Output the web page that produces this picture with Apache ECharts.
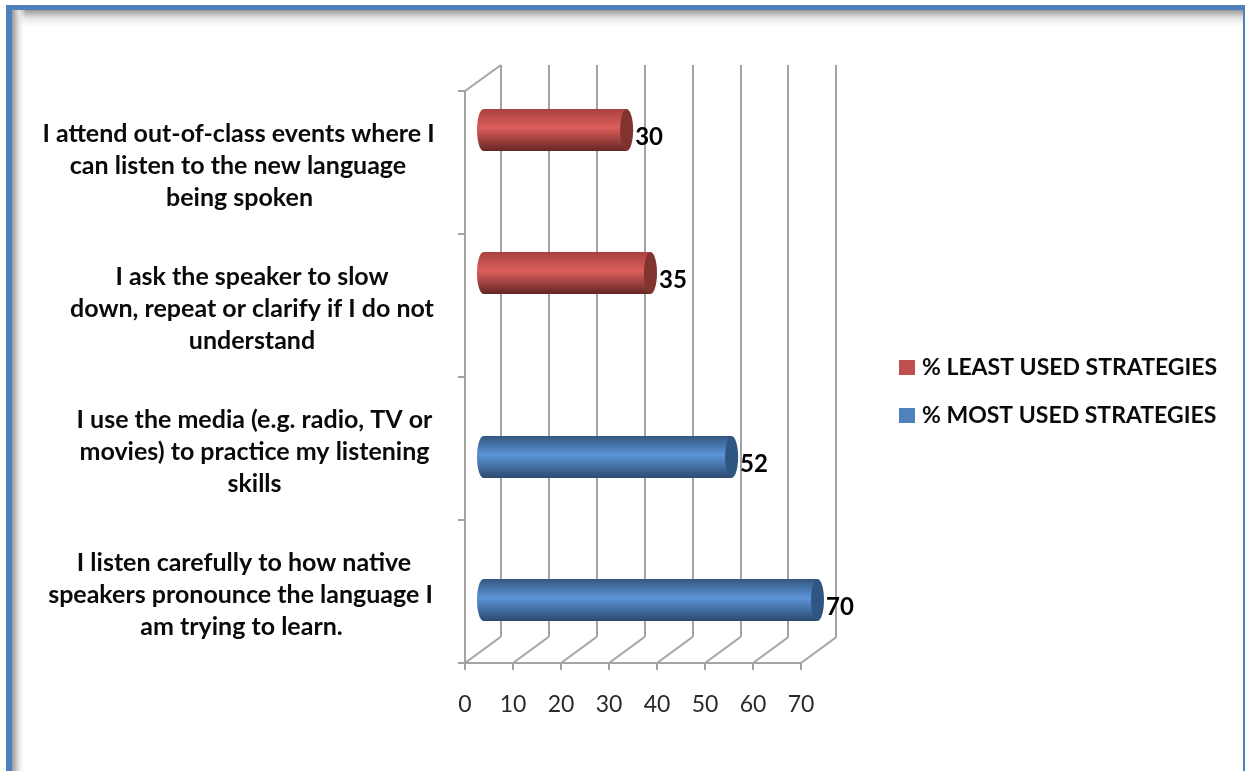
<!DOCTYPE html>
<html>
<head>
<meta charset="utf-8">
<style>html,body{margin:0;padding:0;background:#fff}#c{width:1245px;height:771px}</style>
<script src="https://cdn.jsdelivr.net/npm/echarts@6/dist/echarts.min.js"></script>
</head>
<body>
<div id="c"></div>
<script>
// Categories are listed bottom to top, as the value axis reads them.
const categories = [
  "I listen carefully to how native\nspeakers pronounce the language I\nam trying to learn.",
  "I use the media (e.g. radio, TV or\nmovies) to practice my listening\nskills",
  "I ask the speaker to slow\ndown, repeat or clarify if I do not\nunderstand",
  "I attend out-of-class events where I\ncan listen to the new language\nbeing spoken"
];
const leastUsed = [null, null, 35, 30];
const mostUsed = [70, 52, null, null];
const axisTicks = [0, 10, 20, 30, 40, 50, 60, 70];
const leastName = "% LEAST USED STRATEGIES";
const mostName = "% MOST USED STRATEGIES";

// Small per-line horizontal centring of the hand-broken category labels.
const lineCentres = [
  [244, 240.5, 241.5],
  [254.5, 254.5, 254.5],
  [252, 252, 252],
  [238.5, 238, 239.5]
];
const labelBase = 238;
const FONT = "Lato, Carlito, sans-serif";
const rich = {};
lineCentres.forEach((lines, c) => lines.forEach((cx, l) => {
  rich["c" + c + "l" + l] = {
    fontFamily: FONT, fontSize: 25, fontWeight: 700, color: "#0a0a0a", lineHeight: 32,
    padding: [0, 0, 0, (cx - labelBase) * 2]
  };
}));

const RED = { top: "#a8423f", mid: "#dc5e5b", bot: "#652624", cap: "#80332f" };
const BLUE = { top: "#33567f", mid: "#5b94d8", bot: "#2c4a6e", cap: "#2f5583" };
const grad = p => new echarts.graphic.LinearGradient(0, 0, 0, 1, [
  { offset: 0, color: p.top }, { offset: 0.45, color: p.mid }, { offset: 1, color: p.bot }
]);

function cylinder(pal, shift) {
  return function (params, api) {
    const v = api.value(0);
    if (v == null || isNaN(v)) return null;
    const end = api.coord([v, api.value(1)]);
    const zero = api.coord([0, api.value(1)]);
    const cy = end[1] + shift, rx = 6.5, ry = 21;
    const left = zero[0] - 13;
    return {
      type: "group",
      children: [
        { type: "ellipse", shape: { cx: left + rx, cy, rx, ry }, style: { fill: grad(pal) } },
        { type: "rect", shape: { x: left + rx, y: cy - ry, width: end[0] - rx - left - rx, height: ry * 2 }, style: { fill: grad(pal) } },
        { type: "ellipse", shape: { cx: end[0] - rx, cy, rx, ry }, style: { fill: pal.cap } },
        { type: "text", x: end[0] + 2, y: cy + 7, style: {
            text: String(v), fontFamily: FONT, fontSize: 24, fontWeight: 700,
            fill: "#000", textAlign: "left", textVerticalAlign: "middle" } }
      ]
    };
  };
}

const GRID = "#a3a3a3";
const option = {
  animation: false,
  backgroundColor: "#fff",
  graphic: [
    { type: "rect", z: -10, shape: { x: 12, y: 10, width: 1231, height: 16 }, style: { fill: new echarts.graphic.LinearGradient(0, 0, 0, 1, [{ offset: 0, color: "#9a9a9a" }, { offset: 0.5, color: "#e4e4e4" }, { offset: 1, color: "#ffffff" }]) } },
    { type: "rect", z: -10, shape: { x: 12, y: 10, width: 14, height: 761 }, style: { fill: new echarts.graphic.LinearGradient(0, 0, 1, 0, [{ offset: 0, color: "#9a9a9a" }, { offset: 0.5, color: "#e4e4e4" }, { offset: 1, color: "rgba(255,255,255,0)" }]) } },
    { type: "rect", z: -9, shape: { x: 6, y: 5, width: 1239, height: 5 }, style: { fill: "#4f81bd" } },
    { type: "rect", z: -9, shape: { x: 6, y: 5, width: 6, height: 766 }, style: { fill: "#4f81bd" } },
    { type: "rect", z: -9, shape: { x: 1243, y: 5, width: 2, height: 766 }, style: { fill: "#4f81bd" } }
  ],
  legend: {
    orient: "vertical", left: 894, top: 351, itemWidth: 16, itemHeight: 15, itemGap: 25,
    icon: "rect",
    textStyle: { fontFamily: FONT, fontSize: 23, fontWeight: 700, color: "#0a0a0a", padding: [0, 0, 0, 2] },
    data: [
      { name: leastName, itemStyle: { color: "#c0504d" } },
      { name: mostName, itemStyle: { color: "#4f81bd" } }
    ]
  },
  grid: [
    { left: 465, top: 91, width: 336, height: 572 },   // front plane
    { left: 501, top: 65, width: 335, height: 572 },   // back wall
    { left: 490, top: 79, width: 334, height: 572 }    // plane the cylinders sit in
  ],
  xAxis: [
    { gridIndex: 0, type: "value", min: 0, max: 70, interval: 10,
      axisLine: { show: true, lineStyle: { color: GRID, width: 2 } },
      axisTick: { show: true, length: 7, lineStyle: { color: GRID, width: 2 } },
      splitLine: { show: false },
      axisLabel: { margin: 30, fontFamily: FONT, fontSize: 23, color: "#2a2a2a", showMaxLabel: true, showMinLabel: true } },
    { gridIndex: 1, type: "value", min: 0, max: 70, interval: 10,
      axisLine: { show: false }, axisTick: { show: false }, axisLabel: { show: false },
      splitLine: { show: true, lineStyle: { color: GRID, width: 2 } } },
    { gridIndex: 2, type: "value", min: 0, max: 70, show: false, splitLine: { show: false } }
  ],
  yAxis: [
    { gridIndex: 0, type: "category", data: categories,
      axisLine: { show: true, lineStyle: { color: GRID, width: 2 } },
      axisTick: { show: true, length: 7, lineStyle: { color: GRID, width: 2 } },
      splitLine: { show: false },
      axisLabel: {
        interval: 0, margin: 465 - labelBase, align: "center", rich, padding: [6, 0, 0, 0],
        formatter: (val, idx) => val.split("\n").map((t, l) => "{c" + idx + "l" + l + "|" + t + "}").join("\n")
      } },
    { gridIndex: 1, type: "category", data: categories, show: false },
    { gridIndex: 2, type: "category", data: categories, show: false }
  ],
  series: [
    { type: "custom", name: "floor", silent: true, xAxisIndex: 0, yAxisIndex: 0, z: 1, clip: false,
      data: axisTicks.map(t => [t]),
      encode: { x: 0 },
      renderItem(params, api) {
        const cs = params.coordSys;
        const x = api.coord([api.value(0), 0])[0];
        const b = cs.y + cs.height;
        const style = { stroke: GRID, lineWidth: 2, fill: "none" };
        const children = [{ type: "line", shape: { x1: x, y1: b, x2: x + 35.5, y2: b - 26 }, style }];
        if (api.value(0) === 0) {
          children.push({ type: "line", shape: { x1: x, y1: cs.y, x2: x + 36, y2: cs.y - 26 }, style });
        }
        return { type: "group", children };
      } },
    { type: "custom", name: leastName, xAxisIndex: 2, yAxisIndex: 2, z: 5, clip: false,
      itemStyle: { color: "#c0504d" },
      data: leastUsed.map((v, i) => [v, i]),
      encode: { x: 0, y: 1 },
      renderItem: cylinder(RED, -20.5) },
    { type: "custom", name: mostName, xAxisIndex: 2, yAxisIndex: 2, z: 5, clip: false,
      itemStyle: { color: "#4f81bd" },
      data: mostUsed.map((v, i) => [v, i]),
      encode: { x: 0, y: 1 },
      renderItem: cylinder(BLUE, 20.5) }
  ]
};
const chart = echarts.init(document.getElementById("c"), null, { renderer: "canvas" });
chart.setOption(option);
</script>
</body>
</html>
